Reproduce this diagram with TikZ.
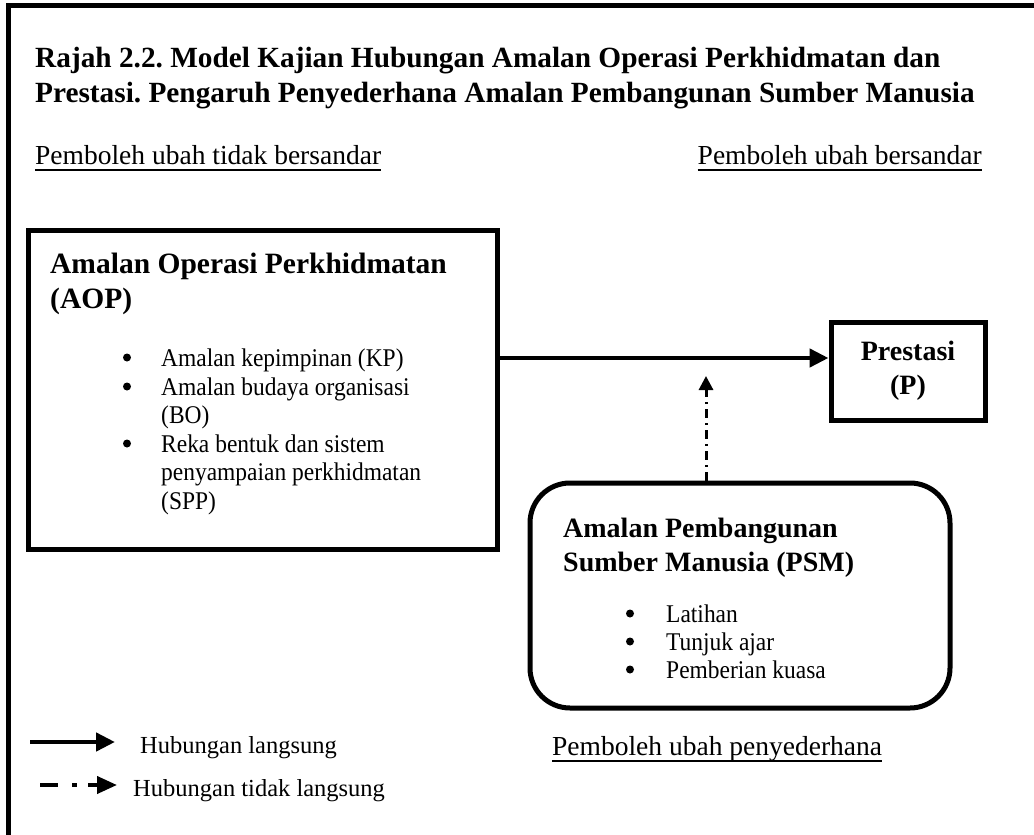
\documentclass[tikz,border=0pt]{standalone}
\usepackage{fontspec}
\setmainfont{Liberation Serif}
\newfontfamily\itemfont{Liberation Serif}[FakeStretch=0.92]
\usetikzlibrary{arrows.meta}
\begin{document}
\frenchspacing
\begin{tikzpicture}[x=1pt,y=-1pt,
  frameline/.style={line width=5pt},
  boxline/.style={draw, line width=5pt, inner sep=0pt},
  titletxt/.style={anchor=base west, inner sep=0pt, font=\fontsize{29.3}{35}\selectfont\bfseries},
  headtxt/.style={anchor=base west, inner sep=0pt, font=\fontsize{27.5}{32}\selectfont},
  boldtxt/.style={anchor=base west, inner sep=0pt, font=\fontsize{28}{33}\selectfont\bfseries},
  itemtxt/.style={anchor=base west, inner sep=0pt, font=\itemfont\fontsize{25.5}{28.6}\selectfont},
  bul/.style={circle, fill, inner sep=0pt, minimum size=8pt, yshift=8.5pt},
  legtxt/.style={anchor=base west, inner sep=0pt, font=\fontsize{24.5}{28}\selectfont},
  uline/.style={line width=1.3pt},
  solidarrow/.style={line width=4.5pt, -{Triangle[length=19pt,width=18pt]}},
  dotarrow/.style={line width=3pt, dash pattern=on 9pt off 5pt on 2pt off 5pt, -{Triangle[length=14pt,width=14pt]}},
  legdot/.style={line width=4pt, dash pattern=on 18pt off 14pt on 5pt off 11pt, -{Triangle[length=20pt,width=17pt]}}
]
\useasboundingbox (0,0) rectangle (1034,835);
% outer frame (cropped at right and bottom)
\draw[frameline] (8,840) -- (8,5) -- (1040,5);

% title
\node[titletxt] (t1) at (35,67) {Rajah 2.2. Model Kajian Hubungan Amalan Operasi Perkhidmatan dan};
\node[titletxt] (t2) at (35,102) {Prestasi. Pengaruh Penyederhana Amalan Pembangunan Sumber Manusia};

% column headers
\node[headtxt] (hl) at (35,164) {Pemboleh ubah tidak bersandar};
\draw[uline] ([yshift=-6pt]hl.base west) -- ([yshift=-6pt]hl.base east);
\node[headtxt, anchor=base east] (hr) at (982,164) {Pemboleh ubah bersandar};
\draw[uline] ([yshift=-6pt]hr.base west) -- ([yshift=-6pt]hr.base east);

% AOP box
\node[boxline, minimum width=469pt, minimum height=319pt] (aop) at (262.5,389.5) {};
\node[boldtxt, font=\fontsize{29.5}{34}\selectfont\bfseries] (aop1) at (50,273) {Amalan Operasi Perkhidmatan};
\node[boldtxt, font=\fontsize{29.5}{34}\selectfont\bfseries] (aop2) at (50,308) {(AOP)};
\node[bul] (b1) at (127,366) {};
\node[itemtxt] (i1) at (161,366) {Amalan kepimpinan (KP)};
\node[bul] (b2) at (127,395) {};
\node[itemtxt] (i2) at (161,395) {Amalan budaya organisasi};
\node[itemtxt] (i2b) at (161,423) {(BO)};
\node[bul] (b3) at (127,452) {};
\node[itemtxt] (i3) at (161,452) {Reka bentuk dan sistem};
\node[itemtxt] (i3b) at (161,480) {penyampaian perkhidmatan};
\node[itemtxt] (i3c) at (161,509) {(SPP)};

% Prestasi box
\node[boxline, minimum width=154pt, minimum height=98pt, align=center,
      font=\fontsize{28}{34}\selectfont\bfseries] (prest) at (908,371) {Prestasi\\(P)};

% main arrow
\coordinate (ay) at (0,358);
\draw[solidarrow] (aop.east |- ay) -- (prest.west |- ay);

% PSM rounded box
\node[boxline, rounded corners=40pt, minimum width=420pt, minimum height=225pt] (psm) at (740,595.5) {};
\node[boldtxt] (psm1) at (563,537) {Amalan Pembangunan};
\node[boldtxt] (psm2) at (563,571) {Sumber Manusia (PSM)};
\node[bul] (c1) at (630,622) {};
\node[itemtxt] (j1) at (666,622) {Latihan};
\node[bul] (c2) at (630,650) {};
\node[itemtxt] (j2) at (666,650) {Tunjuk ajar};
\node[bul] (c3) at (630,678) {};
\node[itemtxt] (j3) at (666,678) {Pemberian kuasa};

% moderating arrow
\coordinate (mtip) at (706,376);
\draw[dotarrow] (psm.north -| mtip) -- (mtip);

% moderator label
\node[headtxt] (hm) at (552,755) {Pemboleh ubah penyederhana};
\draw[uline] ([yshift=-6pt]hm.base west) -- ([yshift=-6pt]hm.base east);

% legend
\coordinate (l1a) at (30,742);
\coordinate (l1b) at (115,742);
\draw[solidarrow] (l1a) -- (l1b);
\node[legtxt] (lt1) at (140,753) {Hubungan langsung};
\coordinate (l2a) at (40,785);
\coordinate (l2b) at (117,785);
\draw[legdot] (l2a) -- (l2b);
\node[legtxt] (lt2) at (133,796) {Hubungan tidak langsung};
\end{tikzpicture}
\end{document}
